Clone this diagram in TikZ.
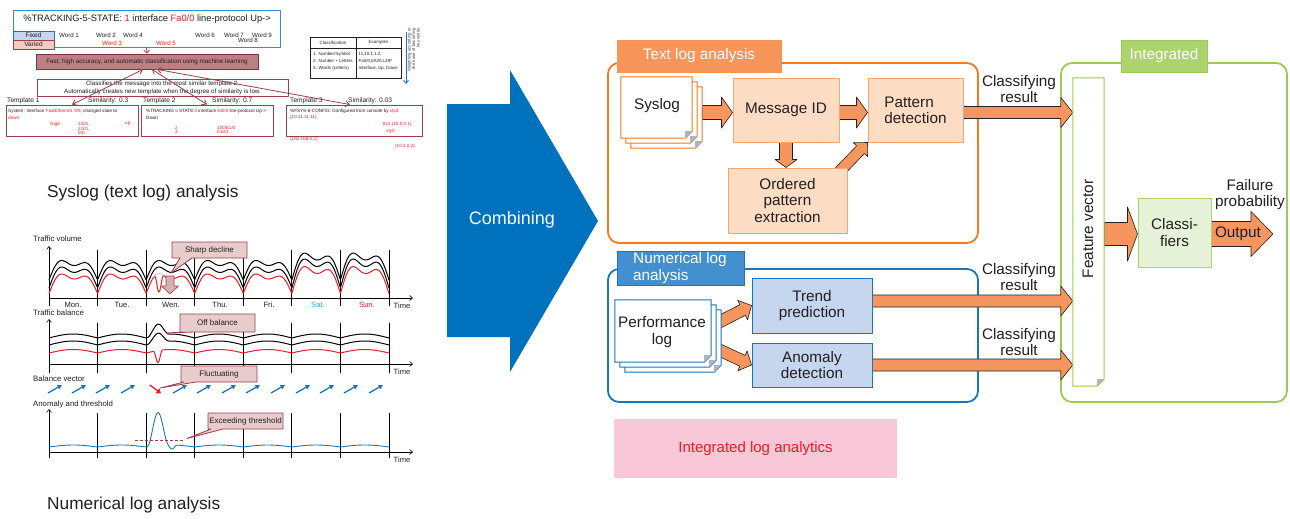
\documentclass[tikz,border=0pt]{standalone}
\usepackage{fontspec}
\setmainfont{Liberation Sans}
\usetikzlibrary{calc,arrows.meta}
\pgfdeclarelayer{back}
\pgfdeclarelayer{front}
\pgfsetlayers{back,main,front}

\definecolor{ink}{HTML}{231F20}
\definecolor{cOrange}{HTML}{F47A20}
\definecolor{cOrTab}{HTML}{F7955B}
\definecolor{cOrArr}{HTML}{F6965E}
\definecolor{cOrBox}{HTML}{FDDCC4}
\definecolor{cOrBoxLine}{HTML}{F7A66F}
\definecolor{cBlue}{HTML}{1B75BC}
\definecolor{cBlTab}{HTML}{4390D0}
\definecolor{cBlBox}{HTML}{C6D6EF}
\definecolor{cGreen}{HTML}{9BCB54}
\definecolor{cGrTab}{HTML}{ABD46F}
\definecolor{cGrBox}{HTML}{E6F2D8}
\definecolor{cComb}{HTML}{0071BC}
\definecolor{cPink}{HTML}{F9C8D8}
\definecolor{cRed}{HTML}{ED1C24}
\definecolor{cWine}{HTML}{9E3D50}
\definecolor{cRose}{HTML}{BE7F82}
\definecolor{cCall}{HTML}{E8CBCB}
\definecolor{cFold}{HTML}{A9B6C6}
\definecolor{cSat}{HTML}{27AAE1}
\definecolor{cFixed}{HTML}{C6D6EF}
\definecolor{cVaried}{HTML}{F5CBC0}

\newcommand\fsz[2]{\fontsize{#1}{#2}\selectfont}

% block arrow: [style]{from}{to}{shaft half width}{head half width}{head length}
\newcommand\blockarr[6][]{%
  \coordinate (bah) at ($(#3)!#6!(#2)$);
  \filldraw[#1] ($(#2)!#4!90:(#3)$) -- ($(bah)!#4!90:(#3)$) -- ($(bah)!#5!90:(#3)$) -- (#3)
    -- ($(bah)!#5!-90:(#3)$) -- ($(bah)!#4!-90:(#3)$) -- ($(#2)!#4!-90:(#3)$) -- cycle;}

% sheet of paper with a folded lower right corner: {node}{line colour}{fold colour}
\newcommand\pageshape[3]{%
  \filldraw[draw=#2, fill=white, line width=1pt] (#1.north west) -- (#1.north east)
    -- ($(#1.south east)+(0,-7)$) -- ($(#1.south east)+(-7,0)$) -- (#1.south west) -- cycle;
  \fill[#3] ($(#1.south east)+(0,-7)$) -- ($(#1.south east)+(-7,0)$) -- ($(#1.south east)+(-7,-7)$) -- cycle;}

% speech-bubble label: {name}{cx}{cy}{w}{h}{tip}{base a}{base b}{text}
\newcommand\callout[9]{%
  \filldraw[callbox] ({#2-#4/2},{#3-#5/2}) -- ({#2+#4/2},{#3-#5/2}) -- ({#2+#4/2},{#3+#5/2})
    -- ({#2-#4/2+#8},{#3+#5/2}) -- (#6) -- ({#2-#4/2+#7},{#3+#5/2}) -- ({#2-#4/2},{#3+#5/2}) -- cycle;
  \node[calltext] (#1) at (#2,#3) {#9};}

\begin{document}
\begin{tikzpicture}[x=1pt,y=-1pt,line join=round,
  declare function={
    tt(\q)=mod(\q-49,48.5714)/48.5714;
    hump(\q)=0.78*sin(180*tt(\q))+0.22*sin(540*tt(\q))+0.04*sin(360*tt(\q));
    sb(\q)=sin(180*tt(\q));
    wk(\q)=1+0.38*(\q>291.9);
    bmp(\q,\qc,\qr)=0.5+0.5*cos(180*min(abs(\q-\qc),\qr)/\qr);
  },
  lbl/.style={inner sep=0, text=ink, font=\fsz{15.3}{16.3}, align=center},
  smalltxt/.style={inner sep=0, text=ink},
  tplf/.style={smalltxt, font=\fsz{4.6}{4.7}, anchor=west},
  frameO/.style={draw=cOrange, line width=1.8pt, rounded corners=11pt, inner sep=0},
  frameB/.style={draw=cBlue, line width=1.8pt, rounded corners=11pt, inner sep=0},
  frameG/.style={draw=cGreen, line width=1.8pt, rounded corners=11pt, inner sep=0},
  tab/.style={inner sep=0, text=white, font=\fsz{15.3}{16.3}},
  boxO/.style={lbl, draw=cOrBoxLine, fill=cOrBox, line width=1pt},
  boxB/.style={lbl, draw=cBlue, fill=cBlBox, line width=1pt},
  boxG/.style={lbl, draw=cGrTab, fill=cGrBox, line width=1pt},
  pagebox/.style={inner sep=0},
  arrO/.style={fill=cOrArr, draw=ink, line width=0.6pt},
  cv/.style={line width=1pt},
  divl/.style={line width=0.9pt},
  ax/.style={line width=0.6pt, -{Straight Barb[length=3pt,width=5pt]}},
  callbox/.style={fill=cCall, draw=cWine, line width=0.8pt},
  calltext/.style={inner sep=0, font=\fsz{8}{9}, text=ink},
  charttxt/.style={inner sep=0, font=\fsz{7.8}{9}, text=ink},
  wine/.style={draw=cWine, line width=0.8pt},
  dbl/.style={wine, {Straight Barb[length=4pt,width=6pt]}-{Straight Barb[length=4pt,width=6pt]}},
  tplbox/.style={draw=cWine, line width=0.9pt, fill=white, minimum height=31pt, inner sep=0},
  bvec/.style={draw=cBlue, line width=1.3pt, -{Triangle[length=4.5pt,width=4.5pt]}},
]
\useasboundingbox (0,0) rectangle (1290,519);

%================ syslog message and templates ================
\node[draw=cBlue!85, line width=0.9pt, minimum width=267pt, minimum height=37pt, inner sep=0] (logline) at (146.5,28.5) {};
\node[smalltxt, font=\fsz{9.3}{10}] (logtxt) at (147,19)
  {\%TRACKING-5-STATE: \textcolor{cRed}{1} interface \textcolor{cRed}{Fa0/0} line-protocol Up->};
\node[draw=cBlue, fill=cFixed, line width=0.8pt, minimum width=41pt, minimum height=9pt, inner sep=0,
  font=\fsz{6.5}{7}, text=ink] (fixed) at (33.5,35.5) {Fixed};
\node[draw=cWine, fill=cVaried, line width=0.8pt, minimum width=41pt, minimum height=9pt, inner sep=0,
  font=\fsz{6.5}{7}, text=ink] (varied) at (33.5,44.5) {Varied};
\foreach \w/\xx/\yy/\cc in {1/69/35/ink, 2/106/35/ink, 4/133/35/ink, 6/205/35/ink, 7/234/35/ink,
    9/262/35/ink, 8/248/40.5/ink, 3/112/43/cRed, 5/166/43/cRed}
  \node[smalltxt, font=\fsz{6.2}{7}, text=\cc] (word\w) at (\xx,\yy) {Word \w};

\node[draw=cWine!80!black, fill=cRose, line width=0.8pt, minimum width=222pt, minimum height=15pt, inner sep=0,
  font=\fsz{6.3}{7}, text=ink] (fast) at (147,61.5)
  {Fast, high accuracy, and automatic classification using machine learning};
\draw[wine, -{Straight Barb[length=3pt,width=6pt]}] (logline.south) -- (fast.north);

\node[draw=cWine, fill=white, line width=0.8pt, minimum width=251pt, minimum height=17pt, inner sep=0,
  font=\fsz{6.2}{7.8}, text=ink, align=center] (classify) at (162.5,87.5)
  {Classifies the message into the most similar template 2.\\Automatically creates new template when the degree of similarity is low.};

\node[tplbox, minimum width=132pt] (tpl1) at (72,120.5) {};
\node[tplbox, minimum width=132pt] (tpl2) at (207,120.5) {};
\node[tplbox, minimum width=136pt] (tpl3) at (354,120.5) {};
\foreach \t/\xx/\s in {Template 1/7/tl1, Similarity: 0.3/88/sl1, Template 2/143/tl2, Similarity: 0.7/212/sl2,
    Template 3/290/tl3, Similarity: 0.03/348/sl3}
  \node[smalltxt, font=\fsz{6.6}{7}, anchor=west] (\s) at (\xx,100.5) {\t};

\draw[dbl] ($(fast.south)+(-4,0)$) -- (tpl1.north);
\draw[dbl] ($(fast.south)+(5,0)$) -- (tpl2.north);
\draw[dbl] ($(fast.south)+(10,0)$) -- ($(tpl3.north)+(-4,0)$);

% template 1
\node[tplf] (t1a) at (8,111) {System: Interface \textcolor{cRed}{FastEthernet}\enspace\textcolor{cRed}{0/9}, changed state to};
\node[tplf, text=cRed] (t1b) at (8,118) {down};
\node[tplf, text=cRed] (t1c) at (50,124) {GigE};
\node[tplf, text=cRed, anchor=north west, align=left] (t1d) at (78,122) {1/0/1,\\2/1/1,\\0/0,};
\node[tplf, text=cRed] (t1e) at (125,124) {up};
% template 2
\node[tplf] (t2a) at (146,111) {\%TRACKING \textcolor{cRed}{5} STATE:\textcolor{cRed}{0} interface \textcolor{cRed}{Gi0/0} line-protocol Up->};
\node[tplf] (t2b) at (146,118) {Down};
\node[tplf, text=cRed] (t2c) at (175,127.5) {2};
\node[tplf, text=cRed] (t2d) at (175,132) {3};
\node[tplf, text=cRed] (t2e) at (217,127.5) {10GE1/0};
\node[tplf, text=cRed] (t2f) at (217,132) {Fa0/1};
% template 3
\node[tplf] (t3a) at (290,111) {\%FSYS-6-CONFIG: Configured from console by \textcolor{cRed}{vty0:}};
\node[tplf, text=cRed] (t3b) at (290,117.5) {(10.11.11.11)};
\node[tplf, text=cRed] (t3c) at (383,124.5) {tty1 (10.0.0.1)};
\node[tplf, text=cRed] (t3d) at (386,131) {vty0};
\node[tplf, text=cRed] (t3e) at (290,139) {(192.168.0.2)};
\node[tplf, text=cRed] (t3f) at (395,146) {(10.1.0.2)};

% classification table
\draw[ink, line width=0.6pt] (310,37) rectangle (401,78) (310,48) -- (401,48) (356,37) -- (356,78);
\node[smalltxt, font=\fsz{4.5}{5}] (th1) at (333,42.5) {Classification};
\node[smalltxt, font=\fsz{4.5}{5}] (th2) at (378.5,42.5) {Examples};
\node[smalltxt, font=\fsz{4.4}{7}, anchor=north west, align=left] (tc1) at (313,52)
  {1. Number/Symbol\\2. Number + Letters\\3. Words (Letters)};
\node[smalltxt, font=\fsz{4.4}{7}, anchor=north west, align=left] (tc2) at (358.5,52)
  {11,10.1.1.2,\\Fa0/0,0AI/0,LZIP\\Interface, Up, Down};
\draw[draw=cBlue, line width=0.9pt, -{Straight Barb[length=3pt,width=5pt]}] (406,32) -- (406,84);
\node[smalltxt, font=\fsz{4.3}{4.6}, align=right, rotate=90, text=ink!85] (wtext) at (414,50)
  {Weighting according to\\the ease of becoming\\key words};

\node[smalltxt, font=\fsz{17.3}{20}, anchor=base west] (systitle) at (47,197) {Syslog (text log) analysis};

%================ numerical log charts ================
\node[charttxt, anchor=west] (tvl) at (33,239) {Traffic volume};
\draw[ax] (49,306) -- (49,246);
\draw[ax] (49,298) -- (413,298);
\foreach \i in {1,...,7} \draw[divl] ({49+\i*48.5714},250) -- ({49+\i*48.5714},306);
\draw[cv] plot[domain=49:389,samples=341] (\x,{280-26*wk(\x)*hump(\x)});
\draw[cv] plot[domain=49:389,samples=341] (\x,{288-28*wk(\x)*hump(\x)});
\draw[cv, cRed] plot[domain=49:389,samples=681] (\x,{293.5-26*wk(\x)*hump(\x)+18*bmp(\x,159,4.5)});
\draw[cRed!55, densely dotted, line width=0.9pt] plot[domain=152:166,samples=20] (\x,{293-26*hump(\x)});
\foreach \d/\n/\c in {0/Mon./ink,1/Tue./ink,2/Wen./ink,3/Thu./ink,4/Fri./ink,5/Sat./cSat,6/Sun./cRed}
  \node[charttxt, font=\fsz{7.6}{9}, text=\c] (day\d) at ({73+\d*49},305) {\n};
\node[charttxt, font=\fsz{7.6}{9}] (time1) at (402,306) {Time};
\coordinate (sdtop) at (170,276);
\coordinate (sdbot) at (170,294);
\blockarr[fill=cCall!80!cWine, draw=cWine, line width=0.6pt]{sdtop}{sdbot}{4pt}{8.5pt}{8pt}
\callout{sharp}{209.5}{250}{75}{16}{171,273}{8}{20}{Sharp decline}

\node[charttxt, anchor=west] (tbl) at (33,313) {Traffic balance};
\draw[ax] (49,373) -- (49,319);
\draw[ax] (49,364) -- (413,364);
\foreach \i in {1,...,7} \draw[divl] ({49+\i*48.5714},323) -- ({49+\i*48.5714},373);
\draw[cv] plot[domain=49:389,samples=341] (\x,{338-4*sb(\x)-11*bmp(\x,158,11)});
\draw[cv] plot[domain=49:389,samples=341] (\x,{345-4*sb(\x)-9*bmp(\x,158,11)});
\draw[cv, cRed] plot[domain=49:389,samples=681] (\x,{353-3.5*sb(\x)+12*bmp(\x,158,4.5)});
\node[charttxt, font=\fsz{7.6}{9}] (time2) at (402,372) {Time};
\callout{offbal}{217.5}{323}{75}{18}{167,333}{2}{14}{Off balance}

\node[charttxt, anchor=west] (bvl) at (33,379) {Balance vector};
\foreach \c in {55,79,103,128,180,204,229,253,278,303,327,351,376}
  \draw[bvec] (\c-7,393) -- (\c+7,385);
\draw[cRed, line width=1.3pt, -{Triangle[length=4.5pt,width=6pt]}] (150,385) -- (161,393.5);
\callout{fluct}{219}{374}{76}{16}{160,388}{3}{15}{Fluctuating}

\node[charttxt, anchor=west] (atl) at (33,404) {Anomaly and threshold};
\draw[ax] (49,458) -- (49,409);
\draw[ax] (49,452) -- (413,452);
\foreach \i in {1,...,7} \draw[divl] ({49+\i*48.5714},413) -- ({49+\i*48.5714},458);
\draw[cBlue, line width=0.9pt] plot[domain=49:389,samples=681] (\x,{447-2*sb(\x)-33*bmp(\x,158,11)+4*bmp(\x,172,5)});
\draw[cWine, densely dashed, line width=0.8pt] (135,440) -- (185,440);
\node[charttxt, font=\fsz{7.6}{9}] (time3) at (402,460) {Time};
\callout{exceed}{245.5}{421}{75}{16}{187,438.5}{3}{15}{Exceeding threshold}

\node[smalltxt, font=\fsz{17.3}{20}, anchor=base west] (numtitle) at (47,509) {Numerical log analysis};

%================ combining arrow ================
\fill[cComb] (447,104) -- (510,104) -- (510,70) -- (598,221) -- (510,372) -- (510,337) -- (447,337) -- cycle;
\node[inner sep=0, text=white, font=\fsz{18}{20}] (combtxt) at (512,220) {Combining};

%================ frames and tabs ================
\begin{pgfonlayer}{back}
  \node[frameO, minimum width=370pt, minimum height=180pt] (tframe) at (793,153) {};
  \node[tab, fill=cOrTab, draw=cOrange!80, line width=0.6pt, minimum width=164pt, minimum height=32pt] (ttab) at (699,56) {Text log analysis};
  \node[frameB, minimum width=370pt, minimum height=133pt] (nframe) at (793,335.5) {};
  \node[tab, fill=cBlTab, draw=cBlue, line width=0.6pt, minimum width=127pt, minimum height=34pt] (ntab) at (680.5,268) {};
  \node[tab, anchor=west, align=left] (ntabtext) at (633,268) {Numerical log\\analysis};
  \node[frameG, minimum width=226pt, minimum height=339pt] (gframe) at (1174,232.5) {};
  \node[tab, fill=cGrTab, draw=cGreen, line width=0.6pt, minimum width=86pt, minimum height=32pt] (gtab) at (1164,56) {Integrated};
\end{pgfonlayer}

%================ boxes and documents ================
\begin{pgfonlayer}{front}
  \node[pagebox, minimum width=71pt, minimum height=61pt] (sys3) at (666.5,117.5) {};
  \pageshape{sys3}{cOrange}{cFold}
  \node[pagebox, minimum width=71pt, minimum height=61pt] (sys2) at (661.5,112.5) {};
  \pageshape{sys2}{cOrange}{cFold}
  \node[pagebox, minimum width=71pt, minimum height=61pt] (sys1) at (656.5,107.5) {};
  \pageshape{sys1}{cOrange}{cFold}
  \node[lbl] (syslbl) at (657,106) {Syslog};

  \node[boxO, minimum width=106pt, minimum height=64pt] (msgid) at (786,110) {Message ID};
  \node[boxO, minimum width=95pt, minimum height=64pt, align=left] (patdet) at (915.5,110) {Pattern\\detection};
  \node[boxO, minimum width=119pt, minimum height=65pt] (ordered) at (787.5,200.5) {Ordered\\pattern\\extraction};

  \node[pagebox, minimum width=96pt, minimum height=62pt] (perf3) at (673,341) {};
  \pageshape{perf3}{cBlue}{cFold}
  \node[pagebox, minimum width=96pt, minimum height=62pt] (perf2) at (668,336) {};
  \pageshape{perf2}{cBlue}{cFold}
  \node[pagebox, minimum width=96pt, minimum height=62pt] (perf1) at (663,331) {};
  \pageshape{perf1}{cBlue}{cFold}
  \node[lbl] (perflbl) at (662,332) {Performance\\log};

  \node[boxB, minimum width=120pt, minimum height=55pt] (trend) at (812,305.5) {Trend\\prediction};
  \node[boxB, minimum width=120pt, minimum height=44pt] (anom) at (812,365) {Anomaly\\detection};

  \node[pagebox, minimum width=31pt, minimum height=308pt] (fvec) at (1088.5,232) {};
  \pageshape{fvec}{cGreen}{black!30}
  \node[lbl, rotate=90] (fvlbl) at (1088,229) {Feature vector};
  \node[boxG, minimum width=73pt, minimum height=69pt] (classif) at (1174.5,232.5) {Classi-\\fiers};
\end{pgfonlayer}

%================ block arrows ================
\coordinate (trow) at (0,112.5);
\coordinate (nrow1) at (0,301);
\coordinate (nrow2) at (0,365);
\coordinate (crow) at (0,234);
\coordinate (a1s) at (sys3.east |- trow);
\coordinate (a1e) at (msgid.west |- trow);
\coordinate (a2s) at (msgid.east |- trow);
\coordinate (a2e) at (patdet.west |- trow);
\coordinate (a3s) at (msgid.south);
\coordinate (a3e) at (msgid.south |- ordered.north);
\coordinate (a4s) at ($(ordered.north east)+(-8,4)$);
\coordinate (a4e) at (patdet.south west);
\coordinate (a5s) at (patdet.east |- trow);
\coordinate (a5e) at (fvec.west |- trow);
\coordinate (p1s) at ($(perf3.east)+(-4,-18)$);
\coordinate (p1e) at (trend.west);
\coordinate (p2s) at ($(perf3.east)+(-4,8)$);
\coordinate (p2e) at (anom.west);
\coordinate (n1s) at (trend.east |- nrow1);
\coordinate (n1e) at (fvec.west |- nrow1);
\coordinate (n2s) at (anom.east |- nrow2);
\coordinate (n2e) at (fvec.west |- nrow2);
\coordinate (f1s) at (fvec.east |- crow);
\coordinate (f1e) at (classif.west |- crow);
\coordinate (o1s) at (classif.east |- crow);
\coordinate (outtip) at (1273,234);

\blockarr[arrO]{a1s}{a1e}{7pt}{15.5pt}{11pt}
\blockarr[arrO]{a2s}{a2e}{7pt}{15.5pt}{11pt}
\blockarr[arrO]{a3s}{a3e}{6.5pt}{11pt}{8pt}
\blockarr[arrO]{a4s}{a4e}{5.5pt}{10pt}{10pt}
\blockarr[arrO]{a5s}{a5e}{6pt}{15pt}{12pt}
\blockarr[arrO]{p1s}{p1e}{6pt}{11pt}{10pt}
\blockarr[arrO]{p2s}{p2e}{6pt}{11pt}{10pt}
\blockarr[arrO]{n1s}{n1e}{6pt}{15pt}{12pt}
\blockarr[arrO]{n2s}{n2e}{6pt}{15pt}{12pt}
\blockarr[arrO]{f1s}{f1e}{11.5pt}{27pt}{10pt}
\blockarr[arrO]{o1s}{outtip}{12.5pt}{22.5pt}{22pt}

%================ labels ================
\node[lbl, font=\fsz{15.3}{16}] (cr1) at (1019,89) {Classifying\\result};
\node[lbl, font=\fsz{15.3}{16}] (cr2) at (1019,277) {Classifying\\result};
\node[lbl, font=\fsz{15.3}{16}] (cr3) at (1019,342) {Classifying\\result};
\node[lbl, font=\fsz{15.3}{16.5}] (fprob) at (1250,194.5) {Failure\\probability};
\node[lbl] (outlbl) at (1238,234) {Output};

\node[fill=cPink, minimum width=283pt, minimum height=59pt, inner sep=0, text=cRed, font=\fsz{15}{16}] (ila) at (755.5,448.5) {Integrated log analytics};
\end{tikzpicture}
\end{document}
